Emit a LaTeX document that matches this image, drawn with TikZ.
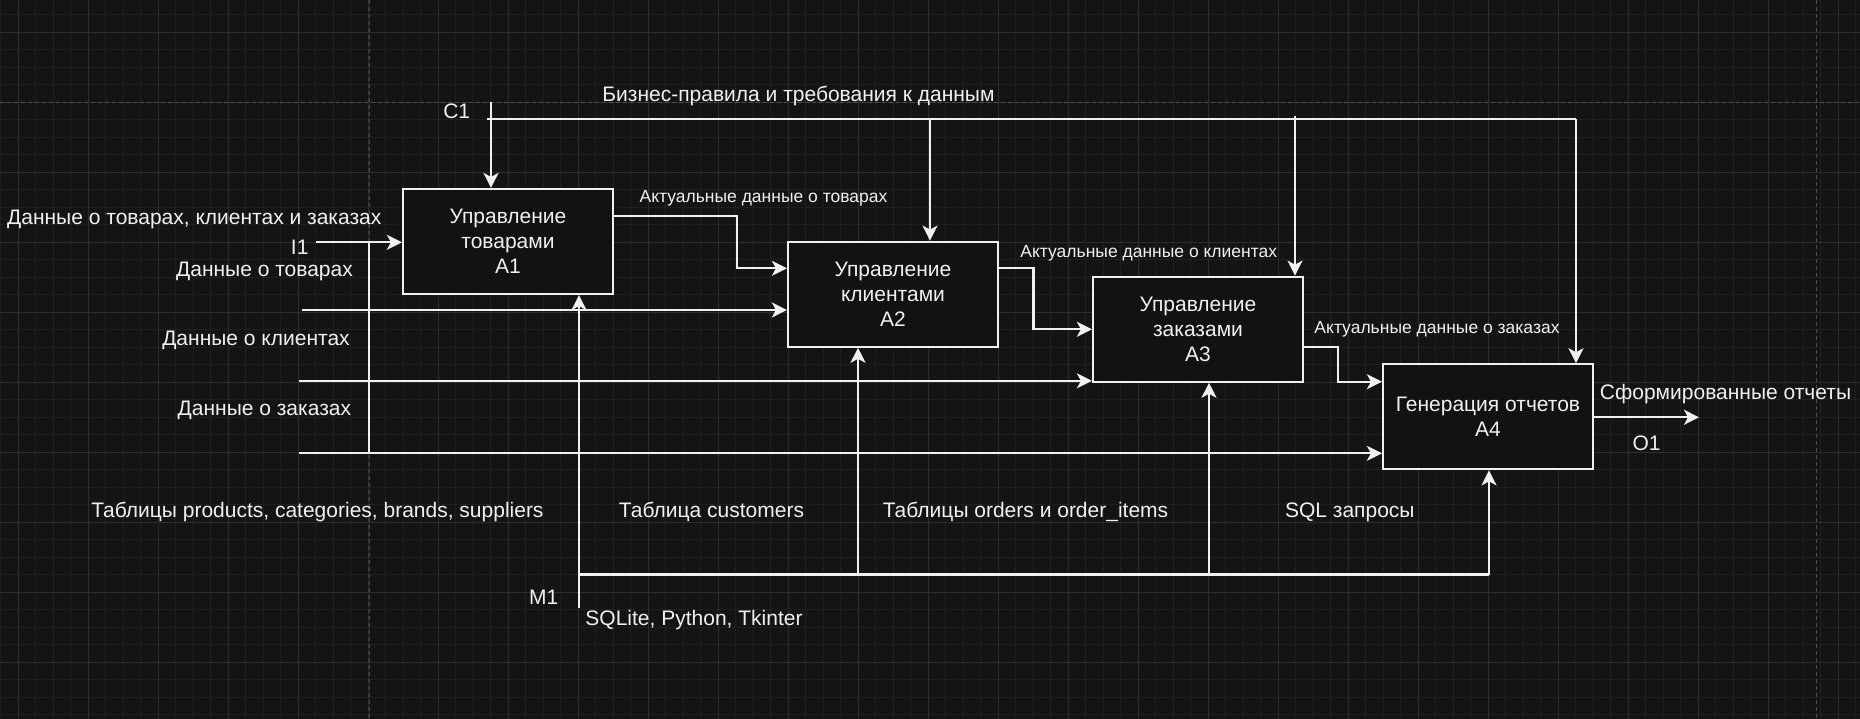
\documentclass[tikz,border=0pt]{standalone}
\usepackage{fontspec}
\setmainfont{Liberation Sans}
\usetikzlibrary{arrows.meta}
\definecolor{bgc}{RGB}{20,20,20}
\definecolor{gminc}{RGB}{31,31,31}
\definecolor{gmajc}{RGB}{45,45,45}
\definecolor{pagec}{RGB}{78,78,78}
\definecolor{boxc}{RGB}{18,18,18}
\definecolor{fg}{RGB}{240,240,240}
\begin{document}
\begin{tikzpicture}[x=1pt,y=-1pt,
  gmin/.style={draw=gminc,line width=1pt},
  gmaj/.style={draw=gmajc,line width=1pt},
  pageline/.style={draw=pagec,line width=1pt,dash pattern=on 4pt off 3pt},
  ln/.style={draw=fg,line width=2.2pt},
  arr/.style={ln,-{Stealth[length=15pt,width=15pt,inset=4pt]}},
  box/.style={draw=fg,fill=boxc,line width=2.2pt,minimum width=210pt,minimum height=105pt,
    inner sep=0pt,align=center,text=fg,font=\fontsize{21}{25}\selectfont},
  lbl/.style={text=fg,inner sep=0pt,font=\fontsize{21}{25}\selectfont,text height=15pt,text depth=0pt},
  sl/.style={text=fg,inner sep=0pt,font=\fontsize{17.5}{21}\selectfont,text height=12.5pt,text depth=0pt}]
% background and grid
\fill[bgc] (0,0) rectangle (1860,719);
\useasboundingbox (0,0) rectangle (1860,719);
\foreach \k in {0,...,106} {\draw[gmin] ({0.8+17.5*\k},0) -- ({0.8+17.5*\k},719);}
\foreach \k in {0,...,40} {\draw[gmin] (0,{14.8+17.5*\k}) -- (1860,{14.8+17.5*\k});}
\foreach \k in {0,...,26} {\draw[gmaj] ({18.3+70*\k},0) -- ({18.3+70*\k},719);}
\foreach \k in {0,...,9} {\draw[gmaj] (0,{32.3+70*\k}) -- (1860,{32.3+70*\k});}
\draw[pageline] (0,102.3) -- (1860,102.3);
\draw[pageline] (369,0) -- (369,719);
\draw[pageline] (1816.7,0) -- (1816.7,719);

% boxes
\node[box] (A1) at (508,241.5) {Управление\\товарами\\A1};
\node[box] (A2) at (893,294.2) {Управление\\клиентами\\A2};
\node[box] (A3) at (1198,329.2) {Управление\\заказами\\A3};
\node[box] (A4) at (1488,416.8) {Генерация отчетов\\A4};

% control
\coordinate (c1) at (491,102.3);
\coordinate (ctl0) at (487,118.7);
\coordinate (ctlR) at (1576,118.7);
\coordinate (b2) at (930,118.7);
\coordinate (b3) at (1295,116);
\draw[arr] (c1) -- (c1 |- A1.north);
\draw[ln] (ctl0) -- (ctlR);
\draw[arr] (ctlR) -- (ctlR |- A4.north);
\draw[arr] (b2) -- (b2 |- A2.north);
\draw[arr] (b3) -- (b3 |- A3.north);

% inputs
\coordinate (i1) at (316,242.3);
\coordinate (d0) at (369,242.3);
\coordinate (d1) at (369,453.3);
\coordinate (p0) at (301.7,310);
\coordinate (k0) at (299.3,380.8);
\coordinate (z0) at (299.3,453.3);
\draw[arr] (i1) -- (i1 -| A1.west);
\draw[ln] (d0) -- (d1);
\draw[ln] (z0) -- (d1);
\draw[arr] (d1) -- (d1 -| A4.west);
\draw[arr] (p0) -- (p0 -| A2.west);
\draw[arr] (k0) -- (k0 -| A3.west);

% flows between boxes
\coordinate (o1a) at (737,215.7);
\coordinate (o1b) at (737,268.3);
\coordinate (o2a) at (1033.5,268.3);
\coordinate (o2b) at (1033.5,329.3);
\coordinate (o3a) at (1337.7,346.7);
\coordinate (o3b) at (1337.7,381.7);
\coordinate (o4) at (1699,417.3);
\draw[arr] (A1.east |- o1a) -- (o1a) -- (o1b) -- (o1b -| A2.west);
\draw[arr] (A2.east |- o2a) -- (o2a) -- (o2b) -- (o2b -| A3.west);
\draw[arr] (A3.east |- o3a) -- (o3a) -- (o3b) -- (o3b -| A4.west);
\draw[arr] (A4.east |- o4) -- (o4);

% mechanisms
\coordinate (m0) at (579,608.3);
\coordinate (m1) at (579,574.5);
\coordinate (m2) at (858,574.5);
\coordinate (m3) at (1209,574.5);
\coordinate (mR) at (1489,574.5);
\draw[arr] (m0) -- (m0 |- A1.south);
\draw[ln] (m1) -- (mR);
\draw[arr] (m2) -- (m2 |- A2.south);
\draw[arr] (m3) -- (m3 |- A3.south);
\draw[arr] (mR) -- (mR |- A4.south);

% labels
\node[lbl] (tctl) at (798.5,94) {Бизнес-правила и требования к данным};
\node[lbl] (tc1) at (456.7,110.7) {C1};
\node[lbl] (tin) at (194.3,216.7) {Данные о товарах, клиентах и заказах};
\node[lbl] (ti1) at (299.7,247.3) {I1};
\node[lbl] (tprod) at (264.5,269) {Данные о товарах};
\node[lbl] (tcust) at (256,338.3) {Данные о клиентах};
\node[lbl] (tord) at (264.4,408.3) {Данные о заказах};
\node[sl] (ta1o) at (763.5,196) {Актуальные данные о товарах};
\node[sl] (ta2o) at (1148.8,251.7) {Актуальные данные о клиентах};
\node[sl] (ta3o) at (1437,327.7) {Актуальные данные о заказах};
\node[lbl] (tout) at (1725.5,392.3) {Сформированные отчеты};
\node[lbl] (to1) at (1646.5,443.3) {O1};
\node[lbl] (tm1a) at (317.4,510) {Таблицы products, categories, brands, suppliers};
\node[lbl] (tm2a) at (711.5,510) {Таблица customers};
\node[lbl] (tm3a) at (1025.5,510) {Таблицы orders и order\_items};
\node[lbl] (tm4a) at (1349.8,510) {SQL запросы};
\node[lbl] (tm1) at (543.7,596.7) {M1};
\node[lbl] (tmech) at (694,618.3) {SQLite, Python, Tkinter};
\end{tikzpicture}
\end{document}
